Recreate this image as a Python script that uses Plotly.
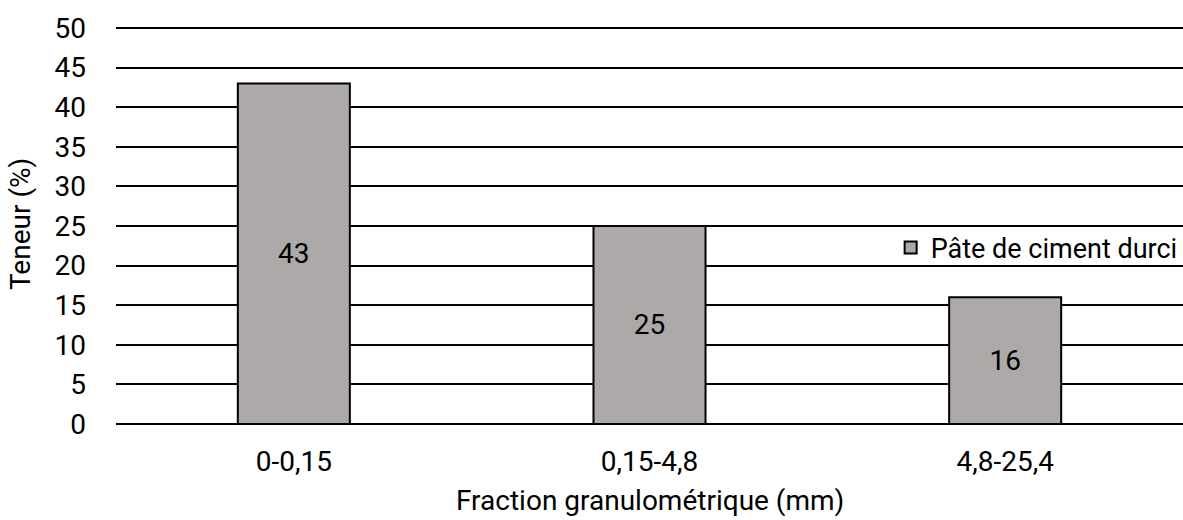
import plotly.graph_objects as go

categories = ["0-0,15", "0,15-4,8", "4,8-25,4"]
values = [43, 25, 16]
series_name = "Pâte de ciment durci"
y_ticks = [0, 5, 10, 15, 20, 25, 30, 35, 40, 45, 50]
x_title = "Fraction granulométrique (mm)"
y_title = "Teneur (%)"

FONT = "Roboto, Liberation Sans Narrow, sans-serif"
FS = 28

fig = go.Figure()
fig.add_trace(go.Bar(
    x=categories, y=values, name=series_name,
    marker=dict(color="#ADA9A8", line=dict(color="black", width=2)),
    width=0.315,
    text=[str(v) for v in values], textposition="inside",
    insidetextanchor="middle", textangle=0,
    textfont=dict(family=FONT, size=FS, color="black"),
    showlegend=True,
))

fig.update_layout(
    width=1183, height=520,
    margin=dict(l=116, r=0, t=24, b=96, autoexpand=False),
    paper_bgcolor="white", plot_bgcolor="white",
    font=dict(family=FONT, size=FS, color="black"),
    showlegend=True,
    legend=dict(x=0.726, y=0.44, xanchor="left", yanchor="middle",
                bgcolor="rgba(0,0,0,0)", font=dict(family=FONT, size=27, color="black"),
                itemwidth=30),
    xaxis=dict(showgrid=False, showline=False, ticks="", ticklabelstandoff=18,
               automargin=False, tickfont=dict(family=FONT, size=FS)),
    yaxis=dict(range=[0, 50.5], tickvals=y_ticks, showgrid=True, gridcolor="black", gridwidth=1.5,
               zeroline=True, zerolinecolor="black", zerolinewidth=1.5,
               showline=False, ticks="", ticklabelstandoff=29, automargin=False,
               tickfont=dict(family=FONT, size=FS)),
    bargap=0.685,
    annotations=[
        dict(text=x_title, xref="paper", yref="paper", x=0.5, y=0, xanchor="center",
             yanchor="middle", yshift=-76, showarrow=False, font=dict(family=FONT, size=FS)),
        dict(text=y_title, xref="paper", yref="paper", x=0, y=0.5, xanchor="center",
             yanchor="middle", xshift=-96, textangle=-90, showarrow=False,
             font=dict(family=FONT, size=FS)),
    ],
)

fig.write_html("out.html", config={"displayModeBar": False},
               post_script="document.body.style.margin='0';document.body.style.overflow='hidden';")
